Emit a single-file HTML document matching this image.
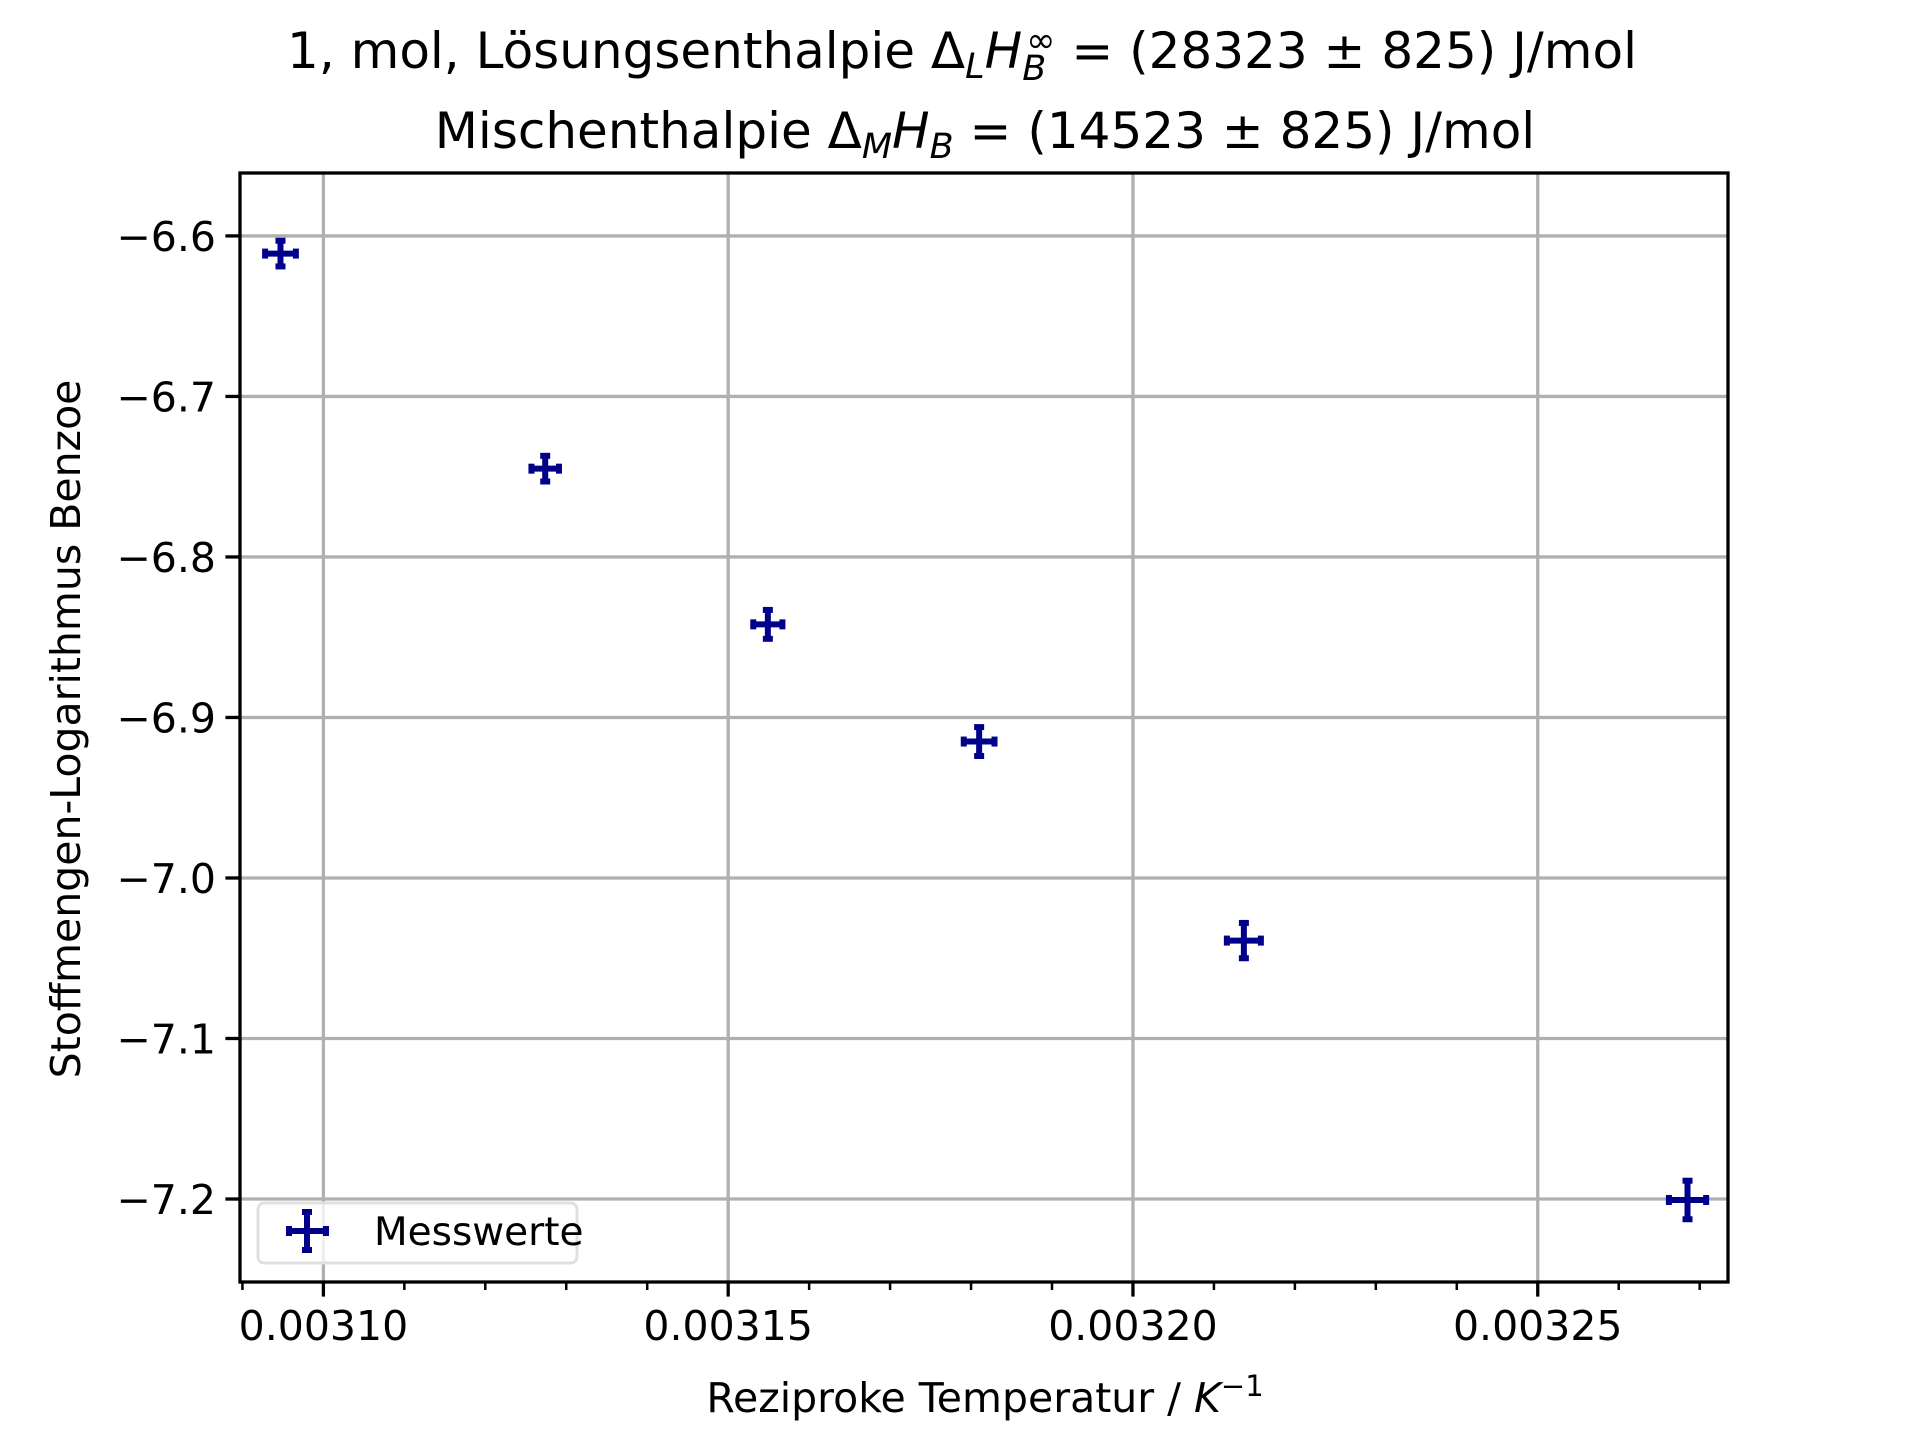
<!DOCTYPE html>
<html><head><meta charset="utf-8"><style>
html,body{margin:0;padding:0;background:#fff;}
svg{display:block;font-family:"DejaVu Sans","Liberation Sans",sans-serif;}
</style></head><body>
<svg id="chart" width="1920" height="1440" viewBox="0 0 1920 1440" xmlns="http://www.w3.org/2000/svg">
<text x="962" y="68" font-size="50" text-anchor="middle">1, mol, Lösungsenthalpie Δ<tspan font-style="italic" font-size="35" dy="10">L</tspan><tspan font-style="italic" dy="-10">H</tspan><tspan font-style="italic" font-size="35" dy="12">B</tspan><tspan font-size="35" dx="-20" dy="-28">∞</tspan><tspan dy="16"> = (28323 ± 825) J/mol</tspan></text>
<text x="985" y="148" font-size="50" text-anchor="middle">Mischenthalpie Δ<tspan font-style="italic" font-size="35" dy="10">M</tspan><tspan font-style="italic" dy="-10">H</tspan><tspan font-style="italic" font-size="35" dy="10">B</tspan><tspan dy="-10"> =  (14523 ± 825) J/mol</tspan></text>
<g id="grid"></g>
<g id="ticks"></g>
<g id="marks"></g>
<rect x="240" y="173" width="1488" height="1109" fill="none" stroke="#000" stroke-width="3.3"/>
<text x="985" y="1412" font-size="41" text-anchor="middle">Reziproke Temperatur / <tspan font-style="italic">K</tspan><tspan font-size="29" dy="-16">−1</tspan></text>
<text transform="translate(80,729) rotate(-90)" font-size="41" text-anchor="middle">Stoffmengen-Logarithmus Benzoe</text>
<g>
<rect x="258" y="1203" width="319" height="60" rx="6" fill="#fff" fill-opacity="0.8" stroke="#e0e0e0" stroke-width="3"/>
<g stroke="#00008b" stroke-width="6">
<line x1="289" y1="1231" x2="326" y2="1231"/><line x1="307" y1="1212" x2="307" y2="1250"/>
<line x1="289" y1="1226" x2="289" y2="1236"/><line x1="326" y1="1226" x2="326" y2="1236"/>
<line x1="302" y1="1212" x2="312" y2="1212"/><line x1="302" y1="1250" x2="312" y2="1250"/>
</g>
<text x="374" y="1245" font-size="39">Messwerte</text>
</g>
</svg>
<script>
const xValues = [0.0030947, 0.0031274, 0.0031549, 0.0031810, 0.0032137, 0.0032685];
const yValues = [-6.611, -6.745, -6.842, -6.915, -7.039, -7.2006];
const xErrors = [0.0000019, 0.0000017, 0.0000018, 0.0000019, 0.0000021, 0.0000023];
const yErrors = [0.008, 0.008, 0.009, 0.009, 0.011, 0.012];
const xTicks = [0.0031, 0.00315, 0.0032, 0.00325];
const xTickLabels = ["0.00310", "0.00315", "0.00320", "0.00325"];
const yTicks = [-6.6, -6.7, -6.8, -6.9, -7.0, -7.1, -7.2];
const yTickLabels = ["−6.6", "−6.7", "−6.8", "−6.9", "−7.0", "−7.1", "−7.2"];
const xMinorTicks = [0.00309,0.00311,0.00312,0.00313,0.00314,0.00316,0.00317,0.00318,0.00319,0.00321,0.00322,0.00323,0.00324,0.00326,0.00327];

const L=240,R=1728,T=173,B=1282;
const X0=0.0030897,X1=0.0032735,Y0=-7.2517,Y1=-6.5608;
function sx(v){return L+(v-X0)/(X1-X0)*(R-L);}
function sy(v){return B-(v-Y0)/(Y1-Y0)*(B-T);}
const NS="http://www.w3.org/2000/svg";
function mk(tag,attrs,parent){const e=document.createElementNS(NS,tag);for(const k in attrs)e.setAttribute(k,attrs[k]);parent.appendChild(e);return e;}
const grid=document.getElementById('grid'),ticks=document.getElementById('ticks'),marks=document.getElementById('marks');
xTicks.forEach((v,i)=>{
  const x=sx(v);
  const g=mk('line',{x1:x,x2:x,y1:T,y2:B,stroke:'#b0b0b0','stroke-width':3.3},grid);
  
  
  const t=mk('line',{x1:x,x2:x,y1:B,y2:B+14.6,stroke:'#000','stroke-width':3.3},ticks);
  
  
  const l=mk('text',{x:x,y:B+58,'font-size':41,'text-anchor':'middle'},ticks);
  l.textContent=xTickLabels[i];
  
  
});
xMinorTicks.forEach(v=>{
  const x=sx(v);
  const t=mk('line',{x1:x,x2:x,y1:B,y2:B+8,stroke:'#000','stroke-width':2.5},ticks);
  
  
});
yTicks.forEach((v,i)=>{
  const y=sy(v);
  const g=mk('line',{x1:L,x2:R,y1:y,y2:y,stroke:'#b0b0b0','stroke-width':3.3},grid);
  
  
  const t=mk('line',{x1:L-14.6,x2:L,y1:y,y2:y,stroke:'#000','stroke-width':3.3},ticks);
  
  
  const l=mk('text',{x:L-24,y:y+15,'font-size':41,'text-anchor':'end'},ticks);
  l.textContent=yTickLabels[i];
  
  
});
xValues.forEach((xv,i)=>{
  const cx=sx(xv),cy=sy(yValues[i]);
  const xl=sx(xv-xErrors[i]),xr=sx(xv+xErrors[i]);
  const yt=sy(yValues[i]+yErrors[i]),yb=sy(yValues[i]-yErrors[i]);
  const g=mk('g',{stroke:'#00008b','stroke-width':6},marks);
  
  
  mk('line',{x1:xl,x2:xr,y1:cy,y2:cy},g);
  mk('line',{x1:cx,x2:cx,y1:yt,y2:yb},g);
  mk('line',{x1:xl,x2:xl,y1:cy-5,y2:cy+5},g);
  mk('line',{x1:xr,x2:xr,y1:cy-5,y2:cy+5},g);
  mk('line',{x1:cx-5,x2:cx+5,y1:yt,y2:yt},g);
  mk('line',{x1:cx-5,x2:cx+5,y1:yb,y2:yb},g);
});
</script>
</body></html>
